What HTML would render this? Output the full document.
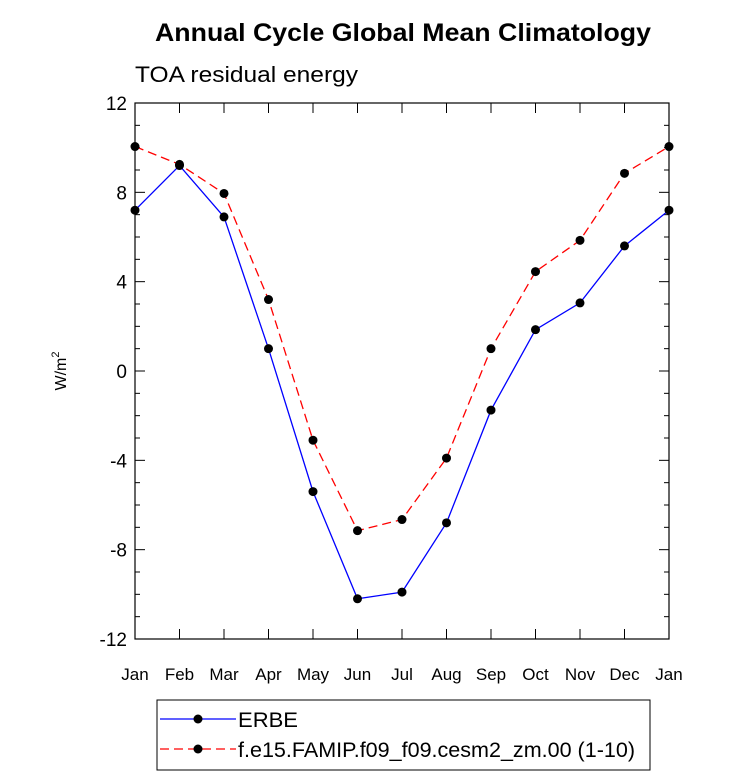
<!DOCTYPE html>
<html><head><meta charset="utf-8"><style>
body{margin:0;background:#fff;}
svg text{font-family:"Liberation Sans",sans-serif;}
</style></head><body>
<svg id="chart" width="733" height="778" xmlns="http://www.w3.org/2000/svg">
<text x="155" y="41" font-size="25" font-weight="bold" textLength="496" lengthAdjust="spacingAndGlyphs">Annual Cycle Global Mean Climatology</text>
<text x="135" y="82" font-size="22" textLength="223" lengthAdjust="spacingAndGlyphs">TOA residual energy</text>
<g id="axes"></g>
<g id="series"></g>
<g>
<rect x="157" y="700" width="493" height="70" fill="none" stroke="#000" stroke-width="1"/>
<line x1="160" y1="719" x2="236" y2="719" stroke="#0000ff" stroke-width="1.3"/>
<circle cx="198" cy="719" r="4.5" fill="#000"/>
<text x="238" y="727" font-size="21" textLength="60" lengthAdjust="spacingAndGlyphs">ERBE</text>
<line x1="160" y1="749" x2="236" y2="749" stroke="#ff0000" stroke-width="1.3" stroke-dasharray="9,5"/>
<circle cx="198" cy="749" r="4.5" fill="#000"/>
<text x="238" y="757" font-size="21" textLength="397" lengthAdjust="spacingAndGlyphs">f.e15.FAMIP.f09_f09.cesm2_zm.00 (1-10)</text>
</g>
</svg>
<script>
const months=["Jan","Feb","Mar","Apr","May","Jun","Jul","Aug","Sep","Oct","Nov","Dec","Jan"];
const erbe=[7.2,9.2,6.9,1.0,-5.4,-10.2,-9.9,-6.8,-1.75,1.85,3.05,5.6,7.2];
const model=[10.05,9.25,7.95,3.2,-3.1,-7.15,-6.65,-3.9,1.0,4.45,5.85,8.85,10.05];
const yTicks=[12,8,4,0,-4,-8,-12];
const yTickLabels=["12","8","4","0","-4","-8","-12"];
const NS="http://www.w3.org/2000/svg";
const L=135,R=669,T=103,B=639;
const x=i=>L+i*(R-L)/12;
const y=v=>T+(12-v)*(B-T)/24;
function mk(tag,attrs,parent){const e=document.createElementNS(NS,tag);for(const k in attrs)e.setAttribute(k,attrs[k]);parent.appendChild(e);return e;}
const ax=document.getElementById('axes');
const frame=mk('rect',{x:L,y:T,width:R-L,height:B-T,fill:'none',stroke:'#000','stroke-width':1.2},ax);


for(let v=-12;v<=12;v++){
  const major=v%4===0;const len=major?10:5;const yy=y(v);
  mk('line',{x1:L,y1:yy,x2:L+len,y2:yy,stroke:'#000'},ax);
  mk('line',{x1:R,y1:yy,x2:R-len,y2:yy,stroke:'#000'},ax);
}
yTicks.forEach((v,i)=>{
  const t=mk('text',{x:L-8,y:y(v)+7,'font-size':19,'text-anchor':'end'},ax);
  t.textContent=yTickLabels[i];
  
  
});
months.forEach((m,i)=>{
  const xx=x(i);
  mk('line',{x1:xx,y1:B,x2:xx,y2:B-10,stroke:'#000'},ax);
  mk('line',{x1:xx,y1:T,x2:xx,y2:T+10,stroke:'#000'},ax);
  const t=mk('text',{x:xx,y:B+41,'font-size':17,'text-anchor':'middle'},ax);
  t.textContent=m;
  
  
});
const yt=mk('text',{x:0,y:0,'font-size':16,'text-anchor':'middle',transform:'translate(66,371) rotate(-90)'},ax);
yt.innerHTML='W/m<tspan dy="-7" font-size="11">2</tspan>';


const sg=document.getElementById('series');
function draw(vals,color,dash,name){
  const p=mk('polyline',{points:vals.map((v,i)=>x(i)+','+y(v)).join(' '),fill:'none',stroke:color,'stroke-width':1.3},sg);
  if(dash)p.setAttribute('stroke-dasharray',dash);
  
  
  vals.forEach((v,i)=>{
    const c=mk('circle',{cx:x(i),cy:y(v),r:4.5,fill:'#000'},sg);
    
    
  });
}
draw(erbe,'#0000ff',null,'erbe');
draw(model,'#ff0000','9,5','model');
</script>
</body></html>
